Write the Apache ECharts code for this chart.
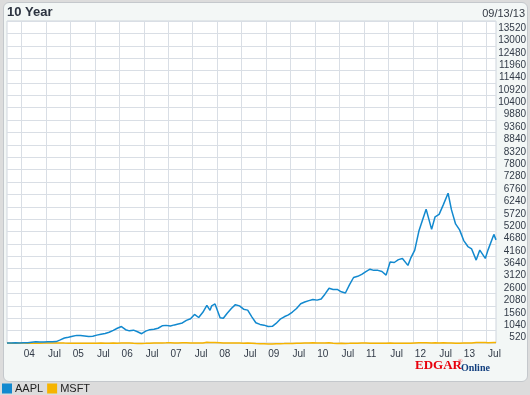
<!DOCTYPE html>
<html><head><meta charset="utf-8">
<script src="https://cdn.jsdelivr.net/npm/echarts@6/dist/echarts.min.js"></script>
<style>
html,body{margin:0;padding:0;background:#dcdcdc;}
#panel{position:absolute;left:3px;top:2px;width:525px;height:380px;box-sizing:border-box;border:1px solid #c4c8cc;border-radius:6px;background:#f3f7f6;}
#c{position:absolute;left:0;top:0;width:530px;height:395px;}
</style>
</head><body><div id="panel"></div><div id="c"></div>
<script>
// Sample dates (mostly mid-month), first and last = chart range ends
const dates = [
 '2003-09-13','2003-10-15','2003-11-15','2003-12-15',
 '2004-01-15','2004-02-15','2004-03-15','2004-04-15','2004-05-15','2004-06-15','2004-07-15','2004-08-15','2004-09-15','2004-10-15','2004-11-15','2004-12-15',
 '2005-01-15','2005-02-15','2005-03-15','2005-04-15','2005-05-15','2005-06-15','2005-07-15','2005-08-15','2005-09-15','2005-10-15','2005-11-15','2005-12-15',
 '2006-01-15','2006-02-15','2006-03-15','2006-04-15','2006-05-15','2006-06-15','2006-07-15','2006-08-15','2006-09-15','2006-10-15','2006-11-15','2006-12-15',
 '2007-01-15','2007-02-15','2007-03-15','2007-04-15','2007-05-15','2007-06-15','2007-07-15','2007-08-15','2007-09-15','2007-10-15','2007-11-08','2007-11-20','2007-12-15','2007-12-28',
 '2008-01-22','2008-02-15','2008-03-15','2008-04-15','2008-05-15','2008-06-15','2008-07-15','2008-08-15','2008-09-15','2008-10-15','2008-11-15','2008-12-15',
 '2009-01-15','2009-02-15','2009-03-15','2009-04-15','2009-05-15','2009-06-15','2009-07-15','2009-08-15','2009-09-15','2009-10-15','2009-11-15','2009-12-15',
 '2010-01-15','2010-02-15','2010-03-15','2010-04-15','2010-05-15','2010-06-15','2010-07-15','2010-08-15','2010-09-15','2010-10-15','2010-11-15','2010-12-15',
 '2011-01-15','2011-02-15','2011-03-15','2011-04-15','2011-05-15','2011-06-15','2011-07-15','2011-08-15','2011-09-15','2011-10-15','2011-11-25','2011-12-15',
 '2012-01-15','2012-02-15','2012-03-15','2012-04-09','2012-05-20','2012-06-15','2012-07-15','2012-08-15','2012-09-20','2012-10-15','2012-11-15','2012-12-15',
 '2013-01-15','2013-02-15','2013-03-15','2013-04-18','2013-05-15','2013-06-25','2013-07-15','2013-08-28','2013-09-13'
];
// % change since 09/13/03
const aapl = [
 0, 5, 10, 5,
 8, 10, 30, 50, 40, 45, 50, 55, 60, 130, 210, 240,
 280, 320, 310, 290, 270, 280, 330, 370, 400, 450, 530, 620,
 690, 560, 510, 540, 470, 390, 500, 560, 580, 620, 720, 740,
 710, 760, 800, 840, 950, 1020, 1200, 1070, 1290, 1580, 1370, 1560, 1640, 1690,
 1061, 1040, 1250, 1450, 1610, 1560, 1420, 1380, 1100, 850, 780, 750,
 690, 700, 820, 1000, 1100, 1180, 1300, 1450, 1650, 1720, 1780, 1830,
 1800, 1850, 2050, 2300, 2250, 2250, 2150, 2100, 2450, 2750, 2800, 2880,
 3000, 3100, 3050, 3050, 3000, 2850, 3400, 3380, 3500, 3550, 3260, 3550,
 3900, 4700, 5200, 5620, 4770, 5300, 5400, 5800, 6290, 5600, 5000, 4750,
 4300, 4050, 3950, 3480, 3900, 3550, 3900, 4560, 4330
];
const msft = [
 -1, -8, -10, -3,
 -2, -6, -12, -8, -8, 1, 1, -4, -2, -1, -5, -6,
 -7, -11, -14, -11, -9, -12, -10, -3, -9, -9, -2, -7,
 0, -5, -4, -14, -20, -18, -15, -9, -3, 1, 4, 6,
 9, 0, -1, 6, 8, 4, 2, 1, 4, 30, 19, 19, 26, 26,
 15, -4, 0, 1, 0, -3, -9, -4, -6, -21, -29, -31,
 -40, -43, -35, -28, -26, -16, -17, -13, -9, -2, 4, 8,
 0, 1, 4, 8, -9, -19, -9, -17, -13, -6, -11, -1,
 -2, -6, -10, -8, -12, -8, -3, -6, -12, -6, -10, -8,
 4, 12, 14, 13, 3, 8, 4, 9, 5, 1, -6, -6,
 -3, -2, 1, 17, 23, 22, 12, 18, 17
];
const tickDates = [
 '2004-01-01','2004-07-01','2005-01-01','2005-07-01','2006-01-01','2006-07-01',
 '2007-01-01','2007-07-01','2008-01-01','2008-07-01','2009-01-01','2009-07-01',
 '2010-01-01','2010-07-01','2011-01-01','2011-07-01','2012-01-01','2012-07-01',
 '2013-01-01','2013-07-01'
];
const tickLabels = ['04','Jul','05','Jul','06','Jul','07','Jul','08','Jul','09','Jul','10','Jul','11','Jul','12','Jul','13','Jul'];
const rangeStart = '2003-09-13', rangeEnd = '2013-09-13';
const yMin = 0, yMax = 13520, yStep = 520;

function toTs(s){const p=s.split('-').map(Number);return Date.UTC(p[0],p[1]-1,p[2]);}
const FONT = 'Liberation Sans, Arial, sans-serif';
const grid = '#d9dee5';
const tickTs = tickDates.map(toTs);
const labelMap = {}; tickTs.forEach((t,i)=>{labelMap[t]=tickLabels[i];});

const chart = echarts.init(document.getElementById('c'), null, {renderer:'canvas'});
chart.setOption({
  animation:false,
  backgroundColor:'transparent',
  title:{text:'10 Year', left:7, top:6, padding:0,
    textStyle:{fontSize:13, fontWeight:'bold', color:'#2c3340', fontFamily:FONT}},
  graphic:{elements:[
    {type:'text', x:525, y:14, style:{text:'09/13/13', textAlign:'right', textVerticalAlign:'middle', font:'11px '+FONT, fill:'#333a44'}},
    {type:'text', x:415, y:366, style:{text:'EDGAR', textAlign:'left', textVerticalAlign:'middle', font:'bold 13px Liberation Serif, serif', fill:'#e8000c'}},
    {type:'text', x:458, y:361, style:{text:'®', textAlign:'left', textVerticalAlign:'middle', font:'6px Liberation Serif, serif', fill:'#e8000c'}},
    {type:'text', x:461, y:368, style:{text:'Online', textAlign:'left', textVerticalAlign:'middle', font:'bold 10px Liberation Serif, serif', fill:'#123f7f'}}
  ]},
  legend:{data:['AAPL','MSFT'], left:2, top:383, padding:0, itemWidth:10, itemHeight:10, itemGap:4, icon:'rect',
    textStyle:{fontSize:11, color:'#222', fontFamily:FONT, padding:[0,0,0,-2]}},
  grid:{left:7, right:34, top:21, bottom:52, show:true, backgroundColor:'#fff', borderColor:'#cfd5dd', borderWidth:1, outerBoundsMode:'none'},
  xAxis:{type:'value', min:toTs(rangeStart), max:toTs(rangeEnd),
    axisLine:{show:false},
    axisTick:{show:false, customValues:tickTs},
    splitLine:{show:true, lineStyle:{color:grid, width:1}},
    axisLabel:{customValues:tickTs, align:'left', padding:[0,0,0,2], margin:6,
      fontSize:10, color:'#323b48', fontFamily:FONT,
      formatter:function(v){return labelMap[v]||'';}}
  },
  yAxis:{type:'value', position:'right', min:yMin, max:yMax, interval:yStep,
    axisLine:{show:false}, axisTick:{show:false},
    splitLine:{show:true, lineStyle:{color:grid, width:1}},
    axisLabel:{align:'right', margin:30, verticalAlign:'top', padding:[2,0,0,0], fontSize:10, color:'#323b48', fontFamily:FONT,
      formatter:function(v){return v===0?'':String(v);}}
  },
  series:[
    {name:'MSFT', type:'line', data:dates.map((d,i)=>[toTs(d),msft[i]]), showSymbol:false, clip:false, z:2,
      color:'#f6b400', lineStyle:{width:1.5, color:'#f6b400'}},
    {name:'AAPL', type:'line', data:dates.map((d,i)=>[toTs(d),aapl[i]]), showSymbol:false, clip:false, z:3,
      color:'#1289cf', lineStyle:{width:1.5, color:'#1289cf'}}
  ]
});
</script>
</body></html>
